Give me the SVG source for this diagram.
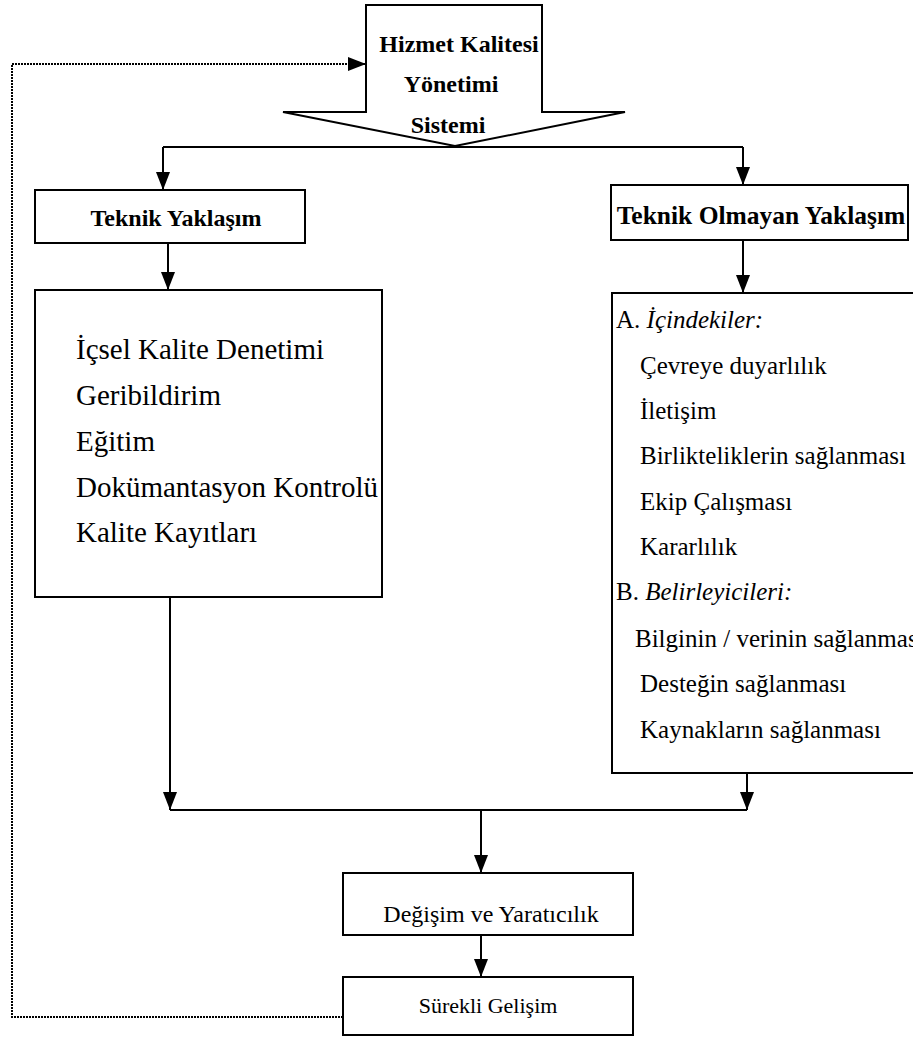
<svg xmlns="http://www.w3.org/2000/svg" width="913" height="1038" viewBox="0 0 913 1038">
<style>
.box{fill:#fff;stroke:#000;stroke-width:2}
.ln{fill:none;stroke:#000;stroke-width:2}
.dot{fill:none;stroke:#000;stroke-width:2;stroke-dasharray:2 1}
.b{font-family:"Liberation Serif","Times New Roman",serif;font-weight:bold;font-size:24px;fill:#000}
.r{font-family:"Liberation Serif","Times New Roman",serif;font-size:25px;fill:#000}
.rl{font-size:29px}
.i{font-style:italic}
</style>
<defs>
<marker id="ah" markerUnits="userSpaceOnUse" markerWidth="20" markerHeight="20" viewBox="0 0 20 20" refX="18" refY="10" orient="auto">
<path d="M0,3 L18,10 L0,17 Z" fill="#000"/>
</marker>
</defs>
<g id="connectors">
<path class="ln" d="M163,147 H743"/>
<path class="ln" d="M163,147 V190" marker-end="url(#ah)"/>
<path class="ln" d="M743,147 V185" marker-end="url(#ah)"/>
<path class="ln" d="M168,243 V290" marker-end="url(#ah)"/>
<path class="ln" d="M743,240 V293" marker-end="url(#ah)"/>
<path class="ln" d="M170,597 V810" marker-end="url(#ah)"/>
<path class="ln" d="M747,773 V810" marker-end="url(#ah)"/>
<path class="ln" d="M170,810 H747"/>
<path class="ln" d="M481,810 V873" marker-end="url(#ah)"/>
<path class="ln" d="M481,935 V977" marker-end="url(#ah)"/>
<path class="dot" d="M343,1017 H12 V64 H366" marker-end="url(#ah)"/>
</g>
<g id="hizmet">
<path class="box" d="M366,5 H542 V112 H625 L455,146 L283,112 H366 Z"/>
<text class="b" x="459" y="52" text-anchor="middle">Hizmet Kalitesi</text>
<text class="b" x="451" y="92" text-anchor="middle">Yönetimi</text>
<text class="b" x="448" y="133" text-anchor="middle">Sistemi</text>
</g>
<g id="teknik">
<rect class="box" x="35" y="190" width="270" height="53"/>
<text class="b" x="176" y="226" text-anchor="middle">Teknik Yaklaşım</text>
</g>
<g id="teknik-olmayan">
<rect class="box" x="611" y="185" width="297" height="55"/>
<text class="b" x="761" y="224" text-anchor="middle" style="font-size:25.5px">Teknik Olmayan Yaklaşım</text>
</g>
<g id="teknik-list">
<rect class="box" x="35" y="290" width="347" height="307"/>
<text class="r rl" x="76" y="359">İçsel Kalite Denetimi</text>
<text class="r rl" x="76" y="405">Geribildirim</text>
<text class="r rl" x="76" y="451">Eğitim</text>
<text class="r rl" x="76" y="497">Dokümantasyon Kontrolü</text>
<text class="r rl" x="76" y="542">Kalite Kayıtları</text>
</g>
<g id="olmayan-list">
<rect class="box" x="612" y="293" width="310" height="480"/>
<text class="r" x="616" y="328">A. <tspan class="i">İçindekiler:</tspan></text>
<text class="r" x="640" y="374">Çevreye duyarlılık</text>
<text class="r" x="640" y="419">İletişim</text>
<text class="r" x="640" y="464">Birlikteliklerin sağlanması</text>
<text class="r" x="640" y="510">Ekip Çalışması</text>
<text class="r" x="640" y="555">Kararlılık</text>
<text class="r" x="616" y="600">B. <tspan class="i">Belirleyicileri:</tspan></text>
<text class="r" x="635" y="647">Bilginin / verinin sağlanması</text>
<text class="r" x="640" y="692">Desteğin sağlanması</text>
<text class="r" x="640" y="738">Kaynakların sağlanması</text>
</g>
<g id="degisim">
<rect class="box" x="343" y="873" width="290" height="62"/>
<text class="r" x="491" y="922" text-anchor="middle" style="font-size:24px">Değişim ve Yaratıcılık</text>
</g>
<g id="surekli">
<rect class="box" x="343" y="977" width="290" height="58"/>
<text class="r" x="488" y="1013" text-anchor="middle" style="font-size:22px">Sürekli Gelişim</text>
</g>
</svg>
